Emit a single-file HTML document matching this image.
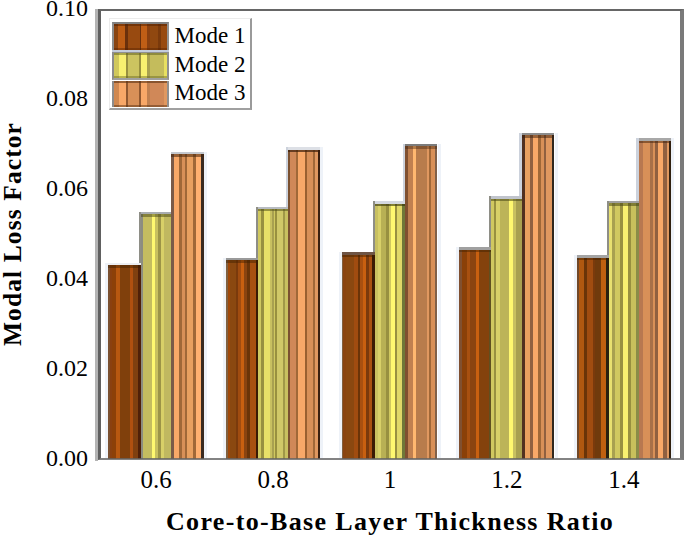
<!DOCTYPE html>
<html><head><meta charset="utf-8"><style>
html,body{margin:0;padding:0;background:#fff;}
body{width:685px;height:536px;overflow:hidden;position:relative;font-family:"Liberation Serif",serif;}
.frame{position:absolute;left:98px;top:8.8px;width:579.3px;height:447.2px;border-top:2.2px solid #666;border-left:3px solid #606060;border-right:4.7px solid #7a7a7a;border-bottom:2.6px solid rgba(100,100,100,0.8);z-index:2;}
.shadowl{position:absolute;left:95px;top:8.5px;width:3px;height:452px;background:#b4b4b4;}
.bar{position:absolute;}
.bar b{position:absolute;left:0;right:0;top:0;height:2.6px;}
.bar i{position:absolute;left:0;right:0;top:2.6px;height:2.4px;}
.halo{position:absolute;width:3px;background:#eef2f8;}
.m2e{position:absolute;width:2.2px;background:#8e8e86;}
.m3e{position:absolute;width:2.6px;background:#ccd2dc;}
.yt{position:absolute;left:0;width:88px;text-align:right;font-size:24px;line-height:24px;margin-top:-13.5px;color:#000;}
.xt{position:absolute;top:467px;width:80px;text-align:center;font-size:25px;line-height:26px;color:#000;}
.xl{position:absolute;left:90px;top:506.5px;width:600px;text-align:center;font-size:26px;letter-spacing:1.35px;font-weight:bold;line-height:30px;}
.yl{position:absolute;left:-137.5px;top:219px;width:300px;text-align:center;font-size:25.5px;letter-spacing:1.1px;font-weight:bold;line-height:30px;transform:rotate(-90deg);transform-origin:50% 50%;}
.legend{position:absolute;left:108.5px;top:17.8px;width:140.4px;height:89.5px;border:1px solid #ececec;border-right:2.8px solid #9a9a9a;border-bottom:2.7px solid #a0a0a0;background:#fff;}
.sw{position:absolute;left:2.5px;width:52.5px;border-left:2px solid #8c8c8c;border-right:2px solid #909090;}
.lt{position:absolute;left:65px;font-size:23px;line-height:24px;}
#wrap{position:absolute;left:0;top:0;width:685px;height:536px;background:#fff;}
</style></head><body><div id="wrap">
<div class="shadowl"></div>
<div class="frame"></div>
<div class="halo" style="left:105.2px;top:262.9px;height:195.3px"></div><div class="halo" style="left:204.0px;top:151.6px;height:306.6px"></div><div class="m2e" style="left:138.8px;top:211.6px;height:53.9px"></div><div class="halo" style="left:223.0px;top:257.7px;height:200.5px"></div><div class="halo" style="left:320.2px;top:147.0px;height:311.2px"></div><div class="m3e" style="left:285.7px;top:147.0px;height:62.1px"></div><div class="m2e" style="left:255.8px;top:206.5px;height:53.8px"></div><div class="halo" style="left:339.4px;top:252.1px;height:206.1px"></div><div class="halo" style="left:437.5px;top:143.7px;height:314.5px"></div><div class="m3e" style="left:402.6px;top:143.7px;height:60.3px"></div><div class="m2e" style="left:372.9px;top:201.4px;height:53.3px"></div><div class="halo" style="left:456.2px;top:247.3px;height:210.9px"></div><div class="halo" style="left:554.5px;top:132.9px;height:325.3px"></div><div class="m3e" style="left:519.3px;top:132.9px;height:65.7px"></div><div class="m2e" style="left:489.2px;top:196.0px;height:53.9px"></div><div class="halo" style="left:573.5px;top:255.2px;height:203.0px"></div><div class="halo" style="left:671.1px;top:138.2px;height:320.0px"></div><div class="m3e" style="left:636.2px;top:138.2px;height:65.1px"></div><div class="m2e" style="left:606.5px;top:200.7px;height:57.1px"></div>
<div class="bar" style="left:108.2px;top:262.9px;width:32.6px;height:196.3px;background:linear-gradient(90deg,#7a5030 0.0px 1.5px,#8a4010 1.5px 3.5px,#8c4008 3.5px 7.6px,#b85810 7.6px 11.7px,#80400c 11.7px 21.6px,#b05010 21.6px 25.1px,#804010 25.1px 30.4px,#502008 30.4px 32.6px)"><b style="background:#eceef2"></b><i style="background:rgba(60,30,0,.45)"></i></div><div class="bar" style="left:140.8px;top:211.6px;width:30.2px;height:247.6px;background:linear-gradient(90deg,#8c8c80 0.0px 2.2px,#c4bc60 2.2px 10.8px,#fff870 10.8px 14.3px,#c8c060 14.3px 16.6px,#9c9448 16.6px 19.5px,#d8d068 19.5px 23.0px,#c0b860 23.0px 30.2px)"><b style="background:#a8acb0"></b><i style="background:rgba(70,70,20,.5)"></i></div><div class="bar" style="left:171.0px;top:151.6px;width:33.0px;height:307.6px;background:linear-gradient(90deg,#7a5a48 0.0px 2.9px,#f8a868 2.9px 7.9px,#a06838 7.9px 10.5px,#d89058 10.5px 14.0px,#a06838 14.0px 16.4px,#e8a060 16.4px 22.2px,#a06838 22.2px 24.5px,#ffb070 24.5px 29.8px,#3a2a20 29.8px 33.0px)"><b style="background:#c4c8ce"></b><i style="background:rgba(70,35,10,.55)"></i></div><div class="bar" style="left:226.0px;top:257.7px;width:31.8px;height:201.5px;background:linear-gradient(90deg,#806040 0.0px 1.8px,#a04808 1.8px 4.4px,#8a4810 4.4px 9.9px,#7a3a0c 9.9px 11.7px,#a04c10 11.7px 15.0px,#c86010 15.0px 17.9px,#8a4410 17.9px 20.8px,#6a3408 20.8px 23.7px,#a85010 23.7px 29.6px,#3a1a04 29.6px 31.8px)"><b style="background:#9a9a9a"></b><i style="background:rgba(60,30,0,.45)"></i></div><div class="bar" style="left:257.8px;top:206.5px;width:30.5px;height:252.7px;background:linear-gradient(90deg,#d0c860 0.0px 3.3px,#989040 3.3px 5.5px,#e8e068 5.5px 12.4px,#c8c060 12.4px 13.9px,#a8a050 13.9px 15.7px,#d0c860 15.7px 17.2px,#989040 17.2px 19.4px,#d0c868 19.4px 25.2px,#a09848 25.2px 27.0px,#c8c060 27.0px 30.5px)"><b style="background:#b8bcc2"></b><i style="background:rgba(70,70,20,.5)"></i></div><div class="bar" style="left:288.3px;top:147.0px;width:31.9px;height:312.2px;background:linear-gradient(90deg,#7a5030 0.0px 2.2px,#d08858 2.2px 7.6px,#a06838 7.6px 10.2px,#f8a868 10.2px 16.8px,#9a6030 16.8px 18.6px,#d89058 18.6px 25.2px,#a06838 25.2px 27.4px,#e09860 27.4px 29.9px,#3a2010 29.9px 31.9px)"><b style="background:#dde0e6"></b><i style="background:rgba(60,30,10,.7)"></i></div><div class="bar" style="left:342.4px;top:252.1px;width:32.5px;height:207.1px;background:linear-gradient(90deg,#806040 0.0px 1.1px,#8a4410 1.1px 3.6px,#8a4810 3.6px 12.4px,#a04c10 12.4px 16.0px,#6a3408 16.0px 17.9px,#a85010 17.9px 20.8px,#c86010 20.8px 24.4px,#7a3a0c 24.4px 27.0px,#a85010 27.0px 29.9px,#3a1a04 29.9px 32.5px)"><b style="background:#6e5444"></b><i style="background:rgba(60,30,0,.45)"></i></div><div class="bar" style="left:374.9px;top:201.4px;width:30.3px;height:257.8px;background:linear-gradient(90deg,#c8c060 0.0px 2.9px,#d8d068 2.9px 5.9px,#b8b054 5.9px 10.6px,#989040 10.6px 13.9px,#d0c860 13.9px 16.1px,#fff870 16.1px 19.7px,#989040 19.7px 21.9px,#e0d868 21.9px 27.0px,#707838 27.0px 30.3px)"><b style="background:#d4d8e0"></b><i style="background:rgba(50,50,10,.6)"></i></div><div class="bar" style="left:405.2px;top:143.7px;width:32.3px;height:315.5px;background:linear-gradient(90deg,#805030 0.0px 2.5px,#c08050 2.5px 7.9px,#ffb870 7.9px 10.9px,#b87c4c 10.9px 21.8px,#e09860 21.8px 24.0px,#a06838 24.0px 26.2px,#d89058 26.2px 29.8px,#806048 29.8px 32.3px)"><b style="background:#7c7c7c"></b><i style="background:rgba(60,30,10,.4)"></i></div><div class="bar" style="left:459.2px;top:247.3px;width:32.0px;height:211.9px;background:linear-gradient(90deg,#805030 0.0px 2.6px,#8a4008 2.6px 8.4px,#a85010 8.4px 11.0px,#8a4410 11.0px 16.8px,#c86010 16.8px 19.8px,#84420c 19.8px 30.0px,#605020 30.0px 32.0px)"><b style="background:#a0a0a0"></b><i style="background:rgba(60,30,0,.45)"></i></div><div class="bar" style="left:491.2px;top:196.0px;width:30.7px;height:263.2px;background:linear-gradient(90deg,#d0c860 0.0px 2.6px,#989040 2.6px 4.8px,#d8d068 4.8px 8.5px,#bcb458 8.5px 18.0px,#fff870 18.0px 21.6px,#c8c060 21.6px 25.3px,#a8a050 25.3px 30.7px)"><b style="background:#c0c4cc"></b><i style="background:rgba(70,70,20,.55)"></i></div><div class="bar" style="left:521.9px;top:132.9px;width:32.6px;height:326.3px;background:linear-gradient(90deg,#503020 0.0px 2.7px,#e8a060 2.7px 8.5px,#906040 8.5px 10.7px,#f8a868 10.7px 16.5px,#a06838 16.5px 18.7px,#d89058 18.7px 21.6px,#906040 21.6px 23.8px,#e09860 23.8px 30.0px,#302820 30.0px 32.6px)"><b style="background:#8c8c8c"></b><i style="background:rgba(60,30,10,.5)"></i></div><div class="bar" style="left:576.5px;top:255.2px;width:32.0px;height:204.0px;background:linear-gradient(90deg,#704828 0.0px 2.1px,#b05810 2.1px 7.5px,#6a3408 7.5px 10.1px,#a04c10 10.1px 15.9px,#7a3a0c 15.9px 18.1px,#703a0c 18.1px 24.0px,#c06010 24.0px 29.1px,#2a2010 29.1px 32.0px)"><b style="background:#a4a4a4"></b><i style="background:rgba(60,30,0,.45)"></i></div><div class="bar" style="left:608.5px;top:200.7px;width:30.3px;height:258.5px;background:linear-gradient(90deg,#e8e070 0.0px 3.3px,#a8a050 3.3px 6.3px,#d0c860 6.3px 11.4px,#989040 11.4px 14.3px,#f8f070 14.3px 19.4px,#989040 19.4px 22.3px,#c8c05c 22.3px 27.4px,#8a8c48 27.4px 30.3px)"><b style="background:#a0a0a0"></b><i style="background:rgba(70,70,20,.55)"></i></div><div class="bar" style="left:638.8px;top:138.2px;width:32.3px;height:321.0px;background:linear-gradient(90deg,#b87850 0.0px 4.0px,#d89058 4.0px 10.8px,#a87048 10.8px 13.7px,#d89058 13.7px 15.9px,#906040 15.9px 18.8px,#f8a868 18.8px 23.9px,#906040 23.9px 27.6px,#e09860 27.6px 30.1px,#302010 30.1px 32.3px)"><b style="background:#a8a8a8"></b><i style="background:rgba(60,30,10,.5)"></i></div>
<div class="legend">
<div class="sw" style="top:3.5px;height:25.5px;border-top:2px solid #808080;background:linear-gradient(90deg,#8a4410 0.0px 4.0px,#bc5c14 4.0px 10.6px,#6a300c 10.6px 13.8px,#984a10 13.8px 25.5px,#6a300c 25.5px 27.0px,#c05e16 27.0px 32.7px,#8a4010 32.7px 35.8px,#904810 35.8px 44.0px,#7a3a0c 44.0px 47.0px,#984a10 47.0px 52.5px);box-shadow:inset 0 2px 0 rgba(80,30,0,.5),inset 0 -2px 0 rgba(80,30,0,.4)"></div>
<div style="position:absolute;left:2.5px;top:31px;width:56.5px;height:2.8px;background:#c4ccdc"></div>
<div class="sw" style="top:33.5px;height:24.5px;border-top:1.5px solid #909090;border-bottom:2.5px solid #a0a0a0;background:linear-gradient(90deg,#d0c85c 0.0px 5.4px,#f8f070 5.4px 11.5px,#989040 11.5px 14.1px,#ccc460 14.1px 24.9px,#989040 24.9px 26.9px,#f8f070 26.9px 33.0px,#a8a050 33.0px 35.7px,#c4bc5c 35.7px 50.4px,#e8e060 50.4px 52.5px);box-shadow:inset 0 2px 0 rgba(90,90,30,.5),inset 0 -2px 0 rgba(90,90,30,.4)"></div>
<div class="sw" style="top:62.3px;height:25.5px;background:linear-gradient(90deg,#d08850 0.0px 4.7px,#f8a868 4.7px 11.5px,#905830 11.5px 13.5px,#d89058 13.5px 24.9px,#905830 24.9px 26.9px,#f8a868 26.9px 33.0px,#c08050 33.0px 35.7px,#d08858 35.7px 50.4px,#e09860 50.4px 52.5px);box-shadow:inset 0 2px 0 rgba(90,50,20,.6),inset 0 -2px 0 rgba(90,50,20,.5)"></div>
<div class="lt" style="top:5.7px">Mode 1</div>
<div class="lt" style="top:34.2px">Mode 2</div>
<div class="lt" style="top:62px">Mode 3</div>
</div>
<div class="yt" style="top:459.2px">0.00</div><div class="yt" style="top:369.3px">0.02</div><div class="yt" style="top:279.3px">0.04</div><div class="yt" style="top:189.4px">0.06</div><div class="yt" style="top:99.4px">0.08</div><div class="yt" style="top:9.5px">0.10</div>
<div class="xt" style="left:116.1px">0.6</div><div class="xt" style="left:233.1px">0.8</div><div class="xt" style="left:349.9px">1</div><div class="xt" style="left:466.9px">1.2</div><div class="xt" style="left:583.8px">1.4</div>
<div class="xl">Core-to-Base Layer Thickness Ratio</div>
<div class="yl">Modal Loss Factor</div>
</div></body></html>
